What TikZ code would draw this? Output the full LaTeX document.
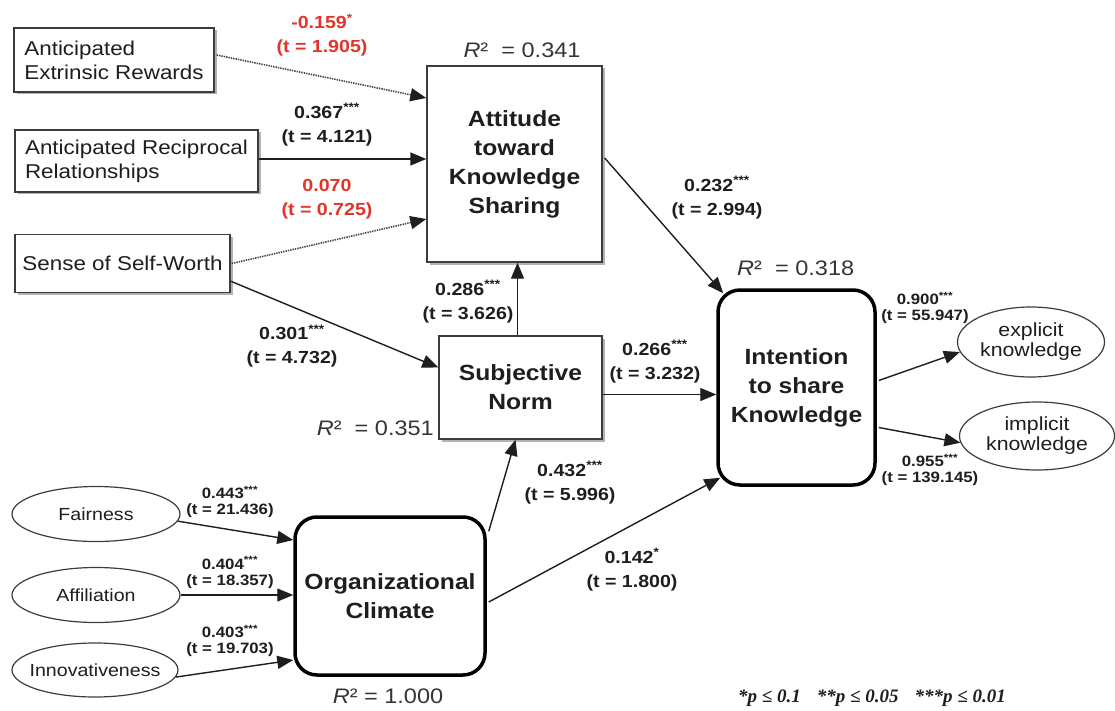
\documentclass[tikz,border=0pt]{standalone}
\usepackage{fontspec}
\setmainfont{Liberation Sans}[FakeStretch=1.12]
\newfontfamily\legfont{Liberation Serif}
\usetikzlibrary{arrows.meta,shapes.geometric,shadows,calc}
\definecolor{labred}{RGB}{226,52,40}
\definecolor{ink}{RGB}{30,30,30}
\definecolor{edge}{RGB}{60,60,60}
\newcommand\zw[1]{\makebox[0pt]{#1}}
\begin{document}
\begin{tikzpicture}[x=1pt,y=-1pt,
  shade/.style={drop shadow={shadow xshift=2.5pt,shadow yshift=-2.5pt,fill=gray!60,opacity=1}},
  inbox/.style={draw=edge,line width=1.4pt,fill=white,shade,align=left,inner sep=0pt,text=ink,font=\fontsize{20}{24}\selectfont},
  conbox/.style={draw=edge,line width=1.4pt,fill=white,shade,align=center,inner sep=0pt,text=ink,font=\fontsize{22}{29}\selectfont\bfseries},
  bigbox/.style={draw=black,line width=3.5pt,rounded corners=22pt,fill=white,align=center,inner sep=0pt,text=ink,font=\fontsize{22}{29}\selectfont\bfseries},
  oval/.style={ellipse,draw=edge,line width=1.2pt,fill=white,align=center,inner sep=0pt,text=ink},
  lab/.style={align=center,inner sep=0pt,text=ink,font=\fontsize{17.5}{24}\selectfont\bfseries},
  slab/.style={align=center,inner sep=0pt,text=ink,font=\fontsize{15}{16}\selectfont\bfseries},
  rlab/.style={lab,text=labred},
  rsq/.style={inner sep=0pt,text=ink!90,font=\fontsize{21}{24}\selectfont},
  arr/.style={draw=ink,line width=1.4pt,-{Triangle[length=16pt,width=13pt,color=ink]}},
  dotarr/.style={arr,draw=gray!55!black,densely dotted,line width=1.6pt},
]
\fill[white] (0,0) rectangle (1115,711);
\useasboundingbox (0,0) rectangle (1115,711);

% nodes
\node[inbox,minimum width=200pt,minimum height=64pt] (aer) at (114,60) {Anticipated\\Extrinsic Rewards};
\node[inbox,minimum width=243pt,minimum height=62pt] (arr) at (136.5,161) {Anticipated Reciprocal\\Relationships};
\node[inbox,minimum width=215pt,minimum height=58pt] (ssw) at (122.5,263.5) {Sense of Self-Worth};
\node[conbox,minimum width=175pt,minimum height=196pt] (att) at (514.5,164) {Attitude\\toward\\Knowledge\\Sharing};
\node[conbox,minimum width=163pt,minimum height=103pt] (sn) at (520.5,387.5) {Subjective\\Norm};
\node[bigbox,minimum width=157pt,minimum height=195pt] (int) at (796.5,387.5) {Intention\\to share\\Knowledge};
\node[bigbox,minimum width=190pt,minimum height=158pt] (oc) at (390,596) {Organizational\\Climate};
\node[oval,minimum width=147pt,minimum height=70pt,font=\fontsize{19}{20}\selectfont] (exp) at (1031,342) {explicit\\knowledge};
\node[oval,minimum width=155pt,minimum height=68pt,font=\fontsize{19}{20}\selectfont] (imp) at (1037,436) {implicit\\knowledge};
\node[oval,minimum width=168pt,minimum height=55pt,font=\fontsize{17.5}{20}\selectfont] (fair) at (96,514) {Fairness};
\node[oval,minimum width=168pt,minimum height=55pt,font=\fontsize{17.5}{20}\selectfont] (aff) at (96,595) {Affiliation};
\node[oval,minimum width=166pt,minimum height=54pt,font=\fontsize{17.5}{20}\selectfont] (inn) at (95,670) {\zw{Innovativeness}};

% connectors
\draw[dotarr] ($(aer.east)+(2,-5)$) -- ($(att.west)+(0,-66)$);
\draw[arr] ($(arr.east)+(0,-2)$) -- ($(att.west)+(0,-5)$);
\draw[dotarr] ($(ssw.east)+(1,0)$) -- ($(att.west)+(0,55)$);
\draw[arr] ($(ssw.south east)+(0,-12)$) -- ($(sn.west)+(0,-20)$);
\draw[arr] ($(sn.north)+(-3,0)$) -- ($(att.south)+(3,0)$);
\draw[arr] ($(att.east)+(2,-6)$) -- ($(int.north west)+(7,5)$);
\draw[arr] ($(sn.east)+(0,7)$) -- ($(int.west)+(0,7)$);
\draw[arr] ($(oc.north east)+(2,16)$) -- ($(sn.south)+(-5,0)$);
\draw[arr] ($(oc.east)+(2,6)$) -- ($(int.south west)+(4,-9)$);
\draw[arr] ($(int.east)+(2,-7)$) -- (exp.188);
\draw[arr] ($(int.east)+(2,40)$) -- (imp.185);
\draw[arr] (fair.-5) -- ($(oc.west)+(0,-56)$);
\draw[arr] (aff.east) -- (aff.east -| oc.west);
\draw[arr] (inn.-5) -- ($(oc.west)+(0,64)$);

% path labels
\node[rlab] (l1) at (322,35) {-0.159\textsuperscript{*}\\(t = 1.905)};
\node[lab] (l2) at (327,124.5) {0.367\textsuperscript{***}\\(t = 4.121)};
\node[rlab] (l3) at (327,199) {0.070\\(t = 0.725)};
\node[lab] (l4) at (717,197.5) {0.232\textsuperscript{***}\\(t = 2.994)};
\node[lab] (l5) at (468,301.5) {0.286\textsuperscript{***}\\(t = 3.626)};
\node[lab] (l6) at (292,346) {0.301\textsuperscript{***}\\(t = 4.732)};
\node[lab] (l7) at (655,361.5) {0.266\textsuperscript{***}\\(t = 3.232)};
\node[lab] (l10) at (570,482.5) {0.432\textsuperscript{***}\\(t = 5.996)};
\node[lab] (l11) at (632,569.5) {0.142\textsuperscript{*}\\(t = 1.800)};
\node[slab] (l8) at (925,308) {0.900\textsuperscript{***}\\(t = 55.947)};
\node[slab] (l9) at (930,470) {0.955\textsuperscript{***}\\(t = 139.145)};
\node[slab] (l12) at (230,502) {0.443\textsuperscript{***}\\(t = 21.436)};
\node[slab] (l13) at (230,572.5) {0.404\textsuperscript{***}\\(t = 18.357)};
\node[slab] (l14) at (230,641) {0.403\textsuperscript{***}\\(t = 19.703)};

% R squared
\node[rsq] (r1) at (522,50) {\textit{R}²\ \ = 0.341};
\node[rsq,anchor=east] (r2) at (434,428) {\textit{R}²\ \ = 0.351};
\node[rsq,anchor=west] (r3) at (737,268) {\textit{R}²\ \ = 0.318};
\node[rsq] (r4) at (388,696) {\textit{R}²\ = 1.000};

% legend
\node[inner sep=0pt,text=ink,font=\legfont\fontsize{19}{22}\selectfont\bfseries\itshape] (leg) at (872,698)
  {*p ≤ 0.1\hspace{16pt}**p ≤ 0.05\hspace{16pt}***p ≤ 0.01};
\end{tikzpicture}
\end{document}
